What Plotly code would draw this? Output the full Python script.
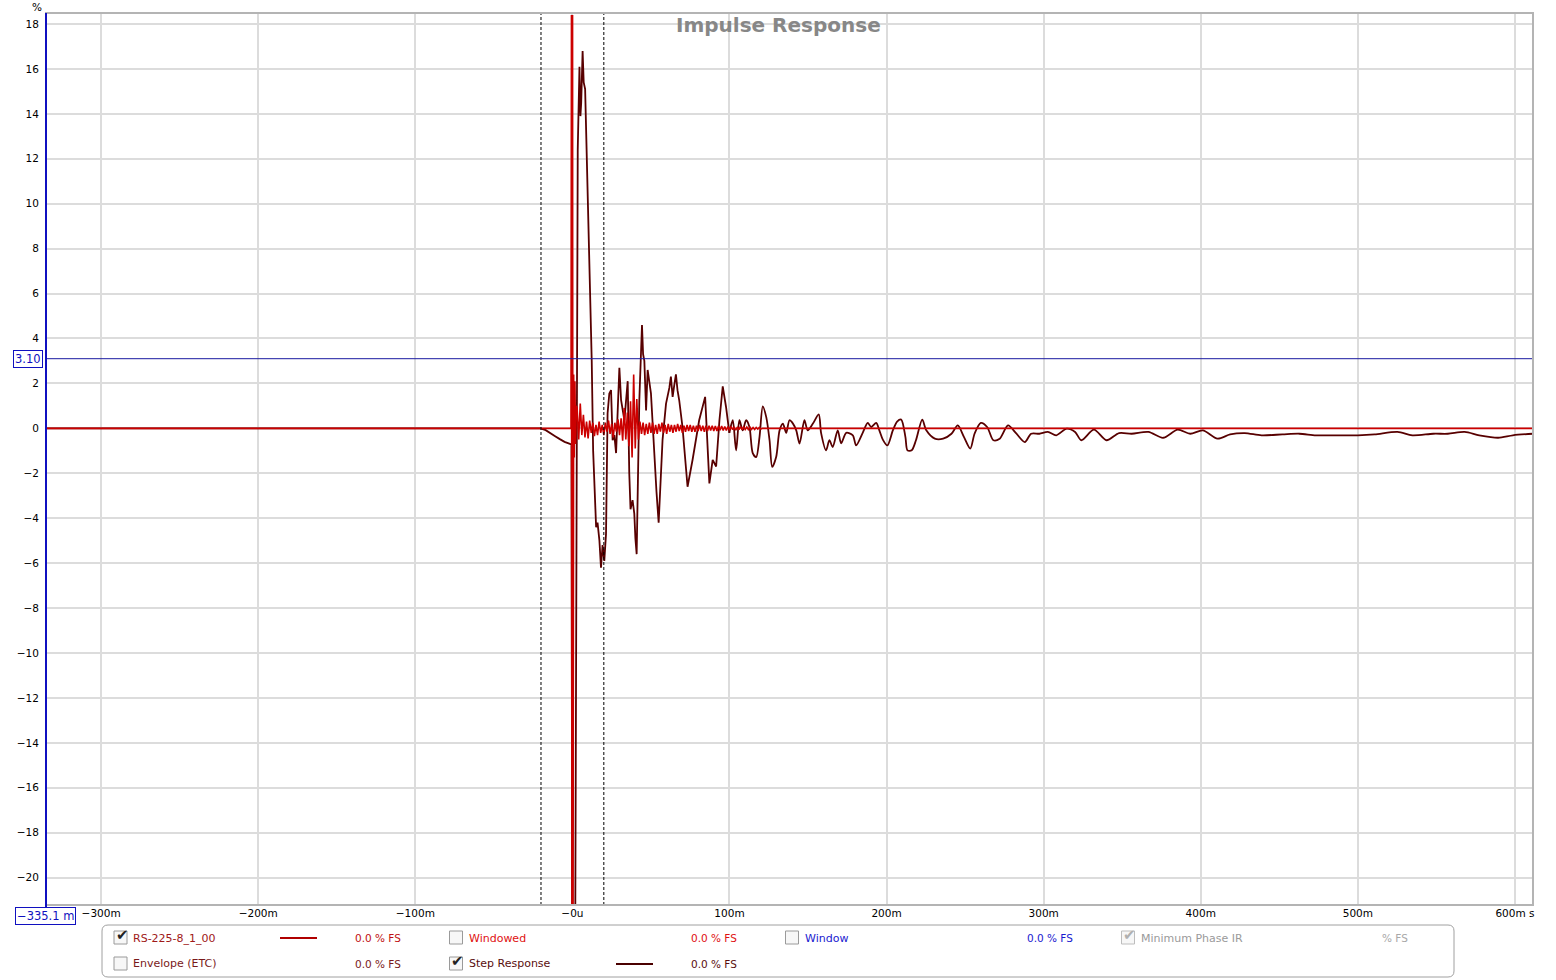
import plotly.graph_objects as go

# ---------------- data ----------------
# Step response, early part (time in ms, value in %)
step_t = [
    -335.1, -20.3, -17.0, -14.0, -11.0, -8.0, -5.0, -2.0, -0.6, -0.1,
    1.8, 3.4, 4.5, 5.1, 5.6, 6.5, 7.2, 8.1, 9.7, 11.5,
    12.3, 13.2, 14.0, 15.1, 16.0, 17.2, 18.2, 19.2, 20.3, 21.4,
    22.4, 23.5, 24.6, 25.6, 26.7, 27.8, 29.9, 31.0, 33.1, 35.2,
    36.2, 37.0, 38.3, 39.4, 40.1, 40.9, 42.6, 43.6, 44.3, 45.0,
    45.8, 46.9, 47.9, 50.0, 52.1, 53.5, 54.9, 57.4, 59.6, 61.7,
    62.7, 63.8, 64.8, 65.9, 66.9, 68.0, 70.1, 73.3, 76.5, 80.7,
    84.5, 87.2, 89.3, 91.5, 93.6, 95.7, 97.8, 99.9,
]
step_v = [
    0, 0, -0.08, -0.2, -0.35, -0.48, -0.6, -0.68, -0.72, -22.5,
    -22.5, 12.4, 16.1, 13.9, 14.5, 16.8, 15.4, 15.1, 10.9, 5.8,
    3.0, -1.0, -2.9, -4.4, -4.2, -5.0, -6.2, -5.2, -5.9, -4.7,
    0.67, 1.55, 1.7, -0.53, -0.3, -1.1, 2.7, 1.25, 0.36, 2.1,
    -2.0, -3.6, -3.2, -3.8, -4.9, -5.6, 1.25, 3.6, 4.6, 3.3,
    3.0, 0.8, 2.6, 1.56, -1.4, -2.8, -4.2, -0.5, 1.1, 1.8,
    2.3, 1.4, 1.9, 2.4, 1.7, 1.25, 0.05, -2.6, -1.4, 0.36,
    1.4, -2.45, -1.4, -1.7, 0.36, 1.87, 0.95, -0.2,
]
# Step response, decaying tail (time in ms, value in %)
tail_t = [
    99.9, 102.1, 104.2, 106.3, 108.4, 110.6,
    112.7, 114.8, 117.0, 119.1, 121.2, 123.4, 125.5, 127.2, 129.7, 131.9,
    134.0, 136.1, 138.2, 140.4, 142.5, 144.6, 147.7, 149.8, 153.0, 156.8,
    158.3, 161.5, 163.6, 165.7, 168.9, 171.1, 174.3, 178.5, 180.6, 184.8,
    188.0, 190.2, 193.4, 195.4, 197.6, 200.5, 204.0, 206.7, 209.3, 212.0,
    213.3, 216.0, 218.7, 222.7, 225.3, 230.7, 236.0, 241.3, 245.3, 249.3,
    253.3, 256.0, 260.0, 264.0, 268.0, 272.0, 277.3, 282.7, 288.0, 292.0,
    297.3, 302.7, 308.0, 314.7, 320.0, 324.0, 332.0, 340.0, 348.0, 356.0,
    366.7, 376.0, 385.3, 393.3, 401.3, 410.7, 418.7, 428.0, 438.7, 452.0,
    462.7, 473.3, 486.7, 500.0, 510.7, 525.3, 534.7, 548.0, 557.3, 568.0,
    577.3, 589.3, 598.7, 611.5,
]
tail_v = [
    -0.2, 0.36, -0.98, 0.36, -0.09, 0.36,
    0.06, -1.1, -1.28, -0.39, 0.98, 0.5, -0.53, -1.72, -1.28, -0.09,
    0.21, -0.2, 0.36, 0.21, -0.09, -0.68, 0.36, -0.09, 0.2, 0.62,
    -0.2, -0.98, -0.53, -0.83, -0.09, -0.67, -0.2, -0.31, -0.76, -0.2,
    0.24, 0.06, 0.24, -0.09, -0.5, -0.76, -0.09, 0.3, 0.39, -0.39,
    -0.98, -0.98, -0.53, 0.39, -0.09, -0.46, -0.46, -0.24, 0.13, -0.39,
    -0.9, -0.24, 0.24, 0.06, -0.53, -0.46, 0.13, -0.24, -0.61, -0.24,
    -0.24, -0.16, -0.31, -0.01, -0.16, -0.53, -0.06, -0.53, -0.21, -0.24,
    -0.16, -0.42, -0.06, -0.24, -0.09, -0.46, -0.27, -0.21, -0.31, -0.27,
    -0.24, -0.31, -0.31, -0.31, -0.27, -0.16, -0.31, -0.24, -0.24, -0.16,
    -0.31, -0.42, -0.31, -0.24,
]

# Impulse response RS-225-8_1_00 (time in ms, value in %)
imp_t = [
    -335.1, -0.9, -0.6, -0.3, 0.1, 0.4, 0.8, 1.2, 1.6, 2.0, 2.5,
    3, 4, 5, 6, 7, 8, 9, 10, 11, 12,
    13, 14, 15, 16, 17, 18, 19, 20, 21, 22,
    23, 24, 25, 26, 27, 28, 29, 30, 31, 32,
    33, 34, 35, 36, 37, 38, 39, 40, 41, 42,
    43, 44, 45, 46, 47, 48, 49, 50, 51, 52,
    53, 54, 55, 56, 57, 58, 59, 60, 61, 62,
    63, 64, 65, 66, 67, 68, 69, 70, 71, 72,
    73, 74, 75, 76, 77, 78, 79, 80, 81, 82,
    83, 84, 85, 86, 87, 88, 89, 90, 91, 92,
    93, 94, 95, 96, 97, 98, 99, 100, 101, 102,
    103, 104, 105, 106, 107, 108, 109, 110, 111, 112,
    113, 114, 115, 116, 117, 118, 119, 120,
    121, 611.5,
]
imp_v = [
    0, 0, 18.4, -24.0, 18.4, -24.0, 2.4, -1.3, 2.1, -0.7, 1.0,
    0.9, -0.5, 1.1, -0.3, 0.6, -0.4, 0.3, -0.45, 0.35, -0.2,
    0.25, -0.35, 0.15, -0.3, 0.3, -0.2, 0.15, -0.3, 0.25, -0.15,
    0.35, -0.25, 0.2, -0.4, 0.25, -0.15, 0.4, -0.3, 0.45, -0.55,
    0.9, -0.5, 0.7, -0.8, 1.2, -1.3, 2.4, -0.9, 1.3, -0.5,
    0.3, -0.25, 0.25, -0.3, 0.2, -0.25, 0.25, -0.2, 0.25, -0.25,
    0.15, -0.25, 0.2, -0.15, 0.25, -0.2, 0.15, -0.25, 0.2, -0.15,
    0.15, -0.2, 0.15, -0.15, 0.2, -0.12, 0.15, -0.2, 0.12, -0.15,
    0.15, -0.12, 0.15, -0.15, 0.12, -0.15, 0.12, -0.12, 0.15, -0.12,
    0.12, -0.15, 0.12, -0.12, 0.12, -0.1, 0.12, -0.12, 0.1, -0.12,
    0.1, -0.08, 0.1, -0.1, 0.08, -0.1, 0.08, -0.08, 0.08, -0.06,
    0.06, -0.08, 0.06, -0.06, 0.08, -0.06, 0.06, -0.05, 0.06, -0.05,
    0.05, -0.05, 0.04, -0.05, 0.04, -0.03, 0.04, -0.03,
    0, 0,
]

x_tick_vals = [-300, -200, -100, 0, 100, 200, 300, 400, 500, 600]
x_tick_text = ["\u2212300m", "\u2212200m", "\u2212100m", "\u22120u", "100m",
               "200m", "300m", "400m", "500m", "600m s"]
y_tick_vals = [18, 16, 14, 12, 10, 8, 6, 4, 2, 0, -2, -4, -6, -8, -10,
               -12, -14, -16, -18, -20]
y_tick_text = [str(v).replace("-", "\u2212") for v in y_tick_vals]

x_range = [-335.1, 611.5]
y_range = [-21.22, 18.49]
window_level = 3.10
window_edges = [-20.0, 20.0]
cursor_x_text = "\u2212335.1 m"
cursor_y_text = "3.10"

legend_row1 = ["RS-225-8_1_00", "Windowed", "Window", "Minimum Phase IR"]
legend_row2 = ["Envelope (ETC)", "Step Response"]
legend_vals1 = ["0.0 % FS", "0.0 % FS", "0.0 % FS", "% FS"]
legend_vals2 = ["0.0 % FS", "0.0 % FS"]
checked_row1 = [True, False, False, True]
checked_row2 = [False, True]

# ---------------- styling / layout ----------------
W, H = 1556, 980
ML, MR, MT, MB = 46, 23, 13, 75
PW, PH = W - ML - MR, H - MT - MB

def px(x):
    return (x - ML) / PW

def py(y):
    return (H - MB - y) / PH

FONT = "DejaVu Sans"
IMP_COLOR = "#cc0000"
STEP_COLOR = "#580000"
BLUE = "#1010c0"

fig = go.Figure()
fig.add_trace(go.Scatter(x=step_t, y=step_v, mode="lines",
                         line=dict(color=STEP_COLOR, width=1.8),
                         name="Step Response", hoverinfo="skip"))
fig.add_trace(go.Scatter(x=tail_t, y=tail_v, mode="lines",
                         line=dict(color=STEP_COLOR, width=1.8, shape="spline",
                                   smoothing=0.8),
                         name="Step Response tail", hoverinfo="skip"))
fig.add_trace(go.Scatter(x=imp_t, y=imp_v, mode="lines",
                         line=dict(color=IMP_COLOR, width=1.6),
                         name="RS-225-8_1_00", hoverinfo="skip"))

shapes = []
for e in window_edges:
    shapes.append(dict(type="line", xref="x", yref="paper", x0=e, x1=e, y0=0, y1=1,
                       line=dict(color="black", width=1, dash="3px,2px"), layer="above"))
shapes.append(dict(type="line", xref="paper", yref="y", x0=0, x1=1,
                   y0=window_level, y1=window_level,
                   line=dict(color="#1a1aa0", width=1), layer="above"))
shapes.append(dict(type="rect", xref="paper", yref="paper", x0=0, x1=1, y0=0, y1=1,
                   line=dict(color="#b4b4b4", width=2), layer="above"))
shapes.append(dict(type="line", xref="paper", yref="paper", x0=0, x1=0,
                   y0=py(909), y1=1, line=dict(color=BLUE, width=2), layer="above"))

# legend rounded box
x0, x1, y0, y1 = px(102), px(1454), py(977), py(925)
rx, ry = 6 / PW, 6 / PH
path = (f"M {x0+rx},{y1} L {x1-rx},{y1} Q {x1},{y1} {x1},{y1-ry} "
        f"L {x1},{y0+ry} Q {x1},{y0} {x1-rx},{y0} L {x0+rx},{y0} "
        f"Q {x0},{y0} {x0},{y0+ry} L {x0},{y1-ry} Q {x0},{y1} {x0+rx},{y1} Z")
shapes.append(dict(type="path", xref="paper", yref="paper", path=path,
                   line=dict(color="#a0a0a0", width=1), fillcolor="white"))

shapes.append(dict(type="line", xref="paper", yref="paper", x0=px(280), x1=px(317),
                   y0=py(938), y1=py(938), line=dict(color="#b00000", width=2)))
shapes.append(dict(type="line", xref="paper", yref="paper", x0=px(616), x1=px(653),
                   y0=py(964), y1=py(964), line=dict(color="#4a0000", width=2)))

annotations = []

def checkbox(cx, cy, checked, grey=False):
    shapes.append(dict(type="rect", xref="paper", yref="paper",
                       x0=px(cx - 6.5), x1=px(cx + 6.5), y0=py(cy + 6.5), y1=py(cy - 6.5),
                       line=dict(color="#bdbdbd" if grey else "#9a9a9a", width=1),
                       fillcolor="#f7f7f7"))
    if checked:
        annotations.append(dict(xref="paper", yref="paper", x=px(cx + 1.5), y=py(cy - 2.5),
                                text="\u2714", showarrow=False, xanchor="center",
                                yanchor="middle",
                                font=dict(family=FONT, size=15,
                                          color="#b0b0b0" if grey else "#222222")))

def label(x, y, text, color, size=11):
    annotations.append(dict(xref="paper", yref="paper", x=px(x - 2), y=py(y), text=text,
                            showarrow=False, xanchor="left", yanchor="middle",
                            font=dict(family=FONT, size=size, color=color)))

cols = [120.5, 456, 792, 1128]
name_x = [133, 469, 805, 1141]
val_x = [355, 691, 1027, 1382]
row1_colors = ["#a01818", "#e01010", "#1a1ad0", "#9a9a9a"]
row1_val_colors = ["#c01010", "#e01010", "#1a1ad0", "#a8a8a8"]
row2_colors = ["#7a1a1a", "#5a0e0e"]
row2_val_colors = ["#7a1a1a", "#5a0e0e"]
for i, txt in enumerate(legend_row1):
    checkbox(cols[i], 937.5, checked_row1[i], grey=(i == 3))
    label(name_x[i], 938, txt, row1_colors[i])
    label(val_x[i], 938, legend_vals1[i], row1_val_colors[i], size=10.5)
for i, txt in enumerate(legend_row2):
    checkbox(cols[i], 963.5, checked_row2[i])
    label(name_x[i], 964, txt, row2_colors[i])
    label(val_x[i], 964, legend_vals2[i], row2_val_colors[i], size=10.5)

annotations.append(dict(xref="paper", yref="paper", x=px(778), y=py(25),
                        text="<b>Impulse Response</b>", showarrow=False,
                        xanchor="center", yanchor="middle",
                        font=dict(family=FONT, size=20, color="#878787")))
annotations.append(dict(xref="paper", yref="paper", x=px(37), y=py(7), text="%",
                        showarrow=False, xanchor="center", yanchor="middle",
                        font=dict(family=FONT, size=10.5, color="black")))
annotations.append(dict(xref="paper", yref="paper", x=px(28), y=py(358.5),
                        text=cursor_y_text, showarrow=False, xanchor="center",
                        yanchor="middle", bgcolor="white", bordercolor=BLUE,
                        borderwidth=1, borderpad=1,
                        font=dict(family=FONT, size=11.5, color=BLUE)))
annotations.append(dict(xref="paper", yref="paper", x=px(45), y=py(915.5),
                        text=cursor_x_text, showarrow=False, xanchor="center",
                        yanchor="middle", bgcolor="white", bordercolor=BLUE,
                        borderwidth=1, borderpad=1,
                        font=dict(family=FONT, size=11.5, color=BLUE)))

fig.update_layout(
    width=W, height=H,
    margin=dict(l=ML, r=MR, t=MT, b=MB),
    paper_bgcolor="white", plot_bgcolor="white",
    showlegend=False,
    shapes=shapes, annotations=annotations,
    font=dict(family=FONT, size=11, color="black"),
    xaxis=dict(range=x_range, tickvals=x_tick_vals, ticktext=x_tick_text,
               showgrid=True, gridcolor="#dcdcdc", gridwidth=2, zeroline=False,
               showline=False, ticks="",
               tickfont=dict(family=FONT, size=10.5, color="black"), fixedrange=True),
    yaxis=dict(range=y_range, tickvals=y_tick_vals, ticktext=y_tick_text,
               showgrid=True, gridcolor="#dcdcdc", gridwidth=2, zeroline=False,
               showline=False, ticks="outside", ticklen=4, tickcolor="rgba(0,0,0,0)",
               tickfont=dict(family=FONT, size=10.5, color="black"), fixedrange=True),
)

fig.write_html("out.html", include_plotlyjs=True,
               config={"displayModeBar": False},
               post_script="document.body.style.margin='0';document.body.style.overflow='hidden';")
